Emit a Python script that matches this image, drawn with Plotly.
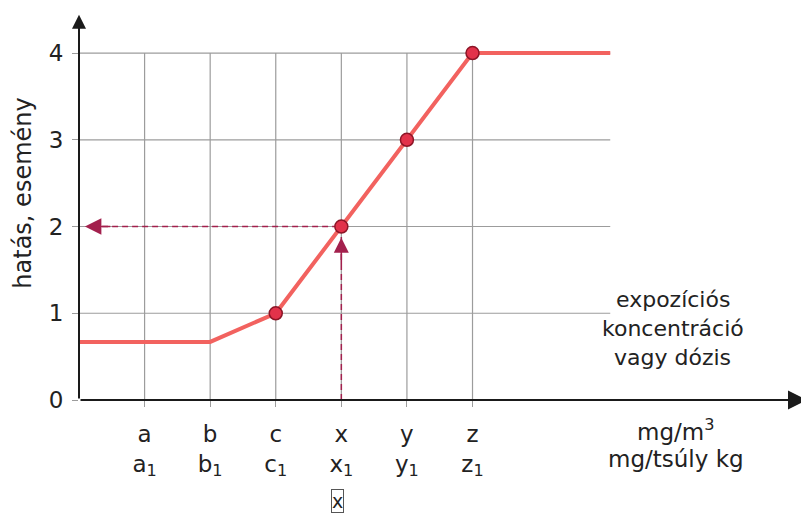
import plotly.graph_objects as go

# ---- data ----
categories = ["a", "b", "c", "x", "y", "z"]
category_subs = ["a<sub>1</sub>", "b<sub>1</sub>", "c<sub>1</sub>", "x<sub>1</sub>", "y<sub>1</sub>", "z<sub>1</sub>"]
category_pos = [1, 2, 3, 4, 5, 6]

curve_x = [0, 2, 3, 4, 5, 6, 8.1]
curve_y = [0.67, 0.67, 1, 2, 3, 4, 4]

marked_x = [3, 4, 5, 6]
marked_y = [1, 2, 3, 4]

y_ticks = [0, 1, 2, 3, 4]

probe_x = 4          # the "x" exposure
probe_y = 2          # resulting effect level

x_max = 11.1
y_max = 4.45
grid_right = 8.1

FONT = "DejaVu Sans"
TXT = "#222222"
GRID = "#9c9c9c"
AXIS = "#1a1a1a"
ARROW = "#a3204d"
LINE = "#f2625f"


def px_(v):
    return v / x_max


def py_(v):
    return v / y_max


fig = go.Figure()

# gridlines (limited extent)
for yv in y_ticks[1:]:
    fig.add_shape(type="line", x0=0, x1=grid_right, y0=yv, y1=yv,
                  line=dict(color=GRID, width=1.2), layer="below")
for xv in category_pos:
    fig.add_shape(type="line", x0=xv, x1=xv, y0=0, y1=y_ticks[-1],
                  line=dict(color=GRID, width=1.2), layer="below")

# dashed guide lines
fig.add_trace(go.Scatter(x=[probe_x, probe_x], y=[0, probe_y - 0.12], mode="lines",
                         line=dict(color=ARROW, width=1.5, dash="6px,4px"),
                         hoverinfo="skip", showlegend=False))
fig.add_trace(go.Scatter(x=[0.2, probe_x - 0.1], y=[probe_y, probe_y], mode="lines",
                         line=dict(color=ARROW, width=1.5, dash="6px,4px"),
                         hoverinfo="skip", showlegend=False))

# dose-response curve
fig.add_trace(go.Scatter(x=curve_x, y=curve_y, mode="lines",
                         line=dict(color=LINE, width=4),
                         hoverinfo="skip", showlegend=False))
fig.add_trace(go.Scatter(x=marked_x, y=marked_y, mode="markers",
                         marker=dict(size=13, color="#e2324a",
                                     line=dict(color="#8c1526", width=1.5)),
                         hoverinfo="skip", showlegend=False))

ann = []
# axis arrows
ann.append(dict(x=0, y=y_max - 0.01, ax=0, ay=0, xref="x", yref="y", axref="x", ayref="y",
                text="", showarrow=True, arrowhead=2, arrowsize=1.4, arrowwidth=2,
                arrowcolor=AXIS, standoff=0))
ann.append(dict(x=x_max, y=0, ax=0, ay=0, xref="x", yref="y", axref="x", ayref="y",
                text="", showarrow=True, arrowhead=2, arrowsize=1.9, arrowwidth=2,
                arrowcolor=AXIS, standoff=0))
# guide arrowheads
ann.append(dict(x=0.09, y=probe_y, ax=0.5, ay=probe_y, xref="x", yref="y", axref="x", ayref="y",
                text="", showarrow=True, arrowhead=2, arrowsize=2.2, arrowwidth=1.5,
                arrowcolor=ARROW, standoff=0))
ann.append(dict(x=probe_x, y=probe_y - 0.13, ax=probe_x, ay=probe_y - 0.45, xref="x", yref="y",
                axref="x", ayref="y", text="", showarrow=True, arrowhead=2, arrowsize=2.0,
                arrowwidth=1.5, arrowcolor=ARROW, standoff=0))


def label(text, xd, yd, size=23, **kw):
    d = dict(x=px_(xd), y=py_(yd), xref="paper", yref="paper", text=text, showarrow=False,
             xanchor="center", yanchor="middle", font=dict(family=FONT, size=size, color=TXT))
    d.update(kw)
    return d


# y title
ann.append(label("hatás, esemény", -0.854, 2.39, size=24, textangle=-90))
# boxed x
ann.append(label("x", probe_x, -1.17, size=19, xshift=-4,
                 bordercolor="#555", borderwidth=1, borderpad=0))
# units
ann.append(label("mg/m<sup>3</sup>", 9.1, -0.35))
ann.append(label("mg/tsúly kg", 9.1, -0.68))
# axis description
for txt, yy in [("expozíciós", 1.16), ("koncentráció", 0.825), ("vagy dózis", 0.49)]:
    ann.append(label(txt, 9.05, yy, size=22))

# the page body has an 8px margin, so the figure is offset by (8, 8) in the window
fig.update_layout(
    width=809, height=515,
    margin=dict(l=71, r=10, t=6, b=123, autoexpand=False),
    paper_bgcolor="white", plot_bgcolor="white",
    annotations=ann,
    xaxis=dict(range=[0, x_max], showgrid=False, zeroline=False, showline=False,
               automargin=False,
               tickmode="array", tickvals=category_pos,
               ticktext=[f"{c}<br>{s}" for c, s in zip(categories, category_subs)],
               ticks="outside", ticklen=6, tickcolor=GRID, tickwidth=1.2,
               ticklabelstandoff=7,
               tickfont=dict(family=FONT, size=23, color=TXT)),
    yaxis=dict(range=[0, y_max], showgrid=False, zeroline=False, showline=False,
               automargin=False,
               tickmode="array", tickvals=y_ticks, ticks="outside", ticklen=6,
               tickcolor=GRID, tickwidth=1.2, ticklabelstandoff=4,
               tickfont=dict(family=FONT, size=23, color=TXT)),
)

fig.write_html("out.html")
